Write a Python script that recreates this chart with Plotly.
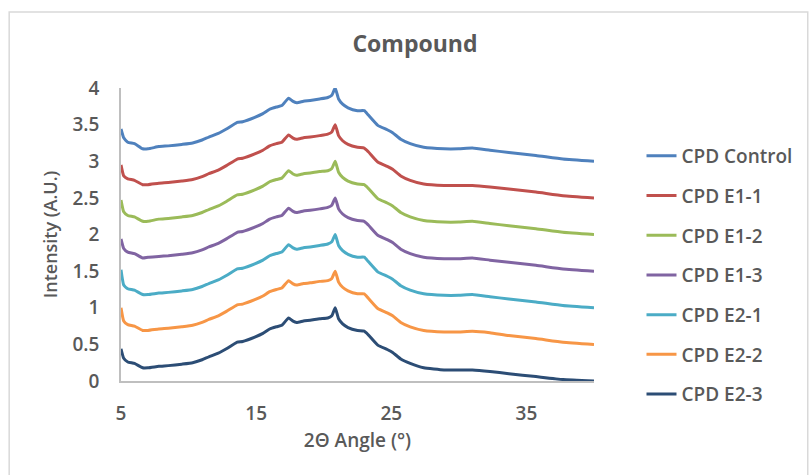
import plotly.graph_objects as go

# 2-theta angle grid (degrees)
angle = [5.0, 5.2, 5.5, 6.0, 6.6, 7.0, 7.8, 8.5, 9.5, 10.3, 11.0, 11.5, 12.2, 12.8,
         13.6, 14.0, 14.9, 15.5, 16.0, 16.5, 16.9, 17.4, 17.7, 18.0, 18.5, 19.0,
         19.7, 20.3, 20.6, 20.85, 21.1, 21.4, 21.8, 22.5, 23.0, 23.3, 24.0, 24.7,
         25.1, 25.7, 26.4, 27.4, 28.9, 30.0, 31.0, 32.3, 33.7, 35.7, 37.7, 40.0]

cpd_control = [3.44, 3.32, 3.26, 3.24, 3.17, 3.17, 3.20, 3.21, 3.23, 3.25, 3.29, 3.33, 3.38, 3.44,
               3.53, 3.54, 3.60, 3.65, 3.71, 3.74, 3.76, 3.86, 3.82, 3.80, 3.82, 3.83,
               3.85, 3.87, 3.90, 4.00, 3.85, 3.78, 3.73, 3.69, 3.69, 3.63, 3.49, 3.43,
               3.39, 3.30, 3.24, 3.19, 3.17, 3.17, 3.18, 3.15, 3.12, 3.08, 3.03, 3.00]
cpd_e1_1 = [2.95, 2.80, 2.76, 2.74, 2.68, 2.68, 2.70, 2.71, 2.73, 2.75, 2.79, 2.83, 2.88, 2.94,
            3.03, 3.04, 3.10, 3.15, 3.21, 3.24, 3.26, 3.36, 3.32, 3.30, 3.32, 3.33,
            3.35, 3.37, 3.40, 3.50, 3.35, 3.28, 3.23, 3.19, 3.18, 3.13, 2.99, 2.93,
            2.89, 2.80, 2.74, 2.69, 2.67, 2.67, 2.67, 2.65, 2.62, 2.58, 2.53, 2.50]
cpd_e1_2 = [2.47, 2.31, 2.26, 2.24, 2.18, 2.18, 2.21, 2.22, 2.24, 2.26, 2.30, 2.34, 2.39, 2.45,
            2.54, 2.55, 2.61, 2.66, 2.72, 2.75, 2.77, 2.87, 2.83, 2.81, 2.83, 2.84,
            2.86, 2.87, 2.90, 3.00, 2.85, 2.78, 2.73, 2.69, 2.68, 2.63, 2.49, 2.43,
            2.39, 2.30, 2.24, 2.19, 2.17, 2.17, 2.18, 2.15, 2.12, 2.08, 2.03, 2.00]
cpd_e1_3 = [1.94, 1.81, 1.76, 1.74, 1.68, 1.69, 1.70, 1.71, 1.73, 1.75, 1.79, 1.83, 1.88, 1.94,
            2.03, 2.04, 2.10, 2.15, 2.21, 2.24, 2.26, 2.36, 2.32, 2.30, 2.32, 2.33,
            2.35, 2.37, 2.40, 2.50, 2.35, 2.28, 2.23, 2.19, 2.18, 2.13, 1.99, 1.93,
            1.89, 1.80, 1.74, 1.69, 1.67, 1.67, 1.68, 1.65, 1.62, 1.58, 1.53, 1.50]
cpd_e2_1 = [1.52, 1.31, 1.26, 1.24, 1.18, 1.18, 1.20, 1.21, 1.23, 1.25, 1.29, 1.33, 1.38, 1.44,
            1.53, 1.54, 1.60, 1.65, 1.71, 1.74, 1.76, 1.86, 1.82, 1.80, 1.82, 1.83,
            1.85, 1.87, 1.90, 2.00, 1.85, 1.78, 1.73, 1.69, 1.69, 1.63, 1.49, 1.43,
            1.39, 1.30, 1.24, 1.19, 1.17, 1.17, 1.18, 1.15, 1.12, 1.08, 1.03, 1.00]
cpd_e2_2 = [1.00, 0.82, 0.77, 0.75, 0.69, 0.69, 0.71, 0.72, 0.74, 0.76, 0.80, 0.84, 0.89, 0.95,
            1.04, 1.05, 1.11, 1.16, 1.22, 1.25, 1.27, 1.37, 1.33, 1.31, 1.33, 1.34,
            1.36, 1.37, 1.40, 1.50, 1.35, 1.28, 1.23, 1.19, 1.19, 1.13, 0.99, 0.93,
            0.89, 0.80, 0.74, 0.69, 0.67, 0.67, 0.68, 0.66, 0.62, 0.58, 0.53, 0.50]
cpd_e2_3 = [0.44, 0.31, 0.26, 0.24, 0.18, 0.18, 0.20, 0.21, 0.23, 0.25, 0.29, 0.33, 0.38, 0.44,
            0.53, 0.54, 0.60, 0.65, 0.71, 0.74, 0.76, 0.86, 0.82, 0.80, 0.82, 0.83,
            0.85, 0.86, 0.89, 1.00, 0.85, 0.78, 0.73, 0.69, 0.68, 0.63, 0.49, 0.43,
            0.39, 0.30, 0.24, 0.18, 0.15, 0.15, 0.15, 0.13, 0.10, 0.06, 0.02, 0.00]

series_names = ["CPD Control", "CPD E1-1", "CPD E1-2", "CPD E1-3", "CPD E2-1", "CPD E2-2", "CPD E2-3"]
series_values = [cpd_control, cpd_e1_1, cpd_e1_2, cpd_e1_3, cpd_e2_1, cpd_e2_2, cpd_e2_3]
colors = ["#4F81BD", "#C0504D", "#9BBB59", "#8064A2", "#4BACC6", "#F79646", "#2C4D75"]

y_ticks = [0, 0.5, 1, 1.5, 2, 2.5, 3, 3.5, 4]
y_tick_labels = ["0", "0.5", "1", "1.5", "2", "2.5", "3", "3.5", "4"]
x_ticks = [5, 15, 25, 35]

FONT = "Open Sans"
GREY = "#595959"

fig = go.Figure()
for i, (name, vals, col) in enumerate(zip(series_names, series_values, colors)):
    fig.add_trace(go.Scatter(
        x=angle, y=vals, name=name, mode="lines",
        line=dict(color=col, width=3, shape="spline", smoothing=0.4),
        legendgroup=f"g{i}",
    ))

fig.update_layout(
    width=809, height=475,
    margin=dict(l=121, r=210, t=88, b=94),
    paper_bgcolor="white", plot_bgcolor="white",
    font=dict(family=FONT, color=GREY, size=16),
    title=dict(text="<b>Compound</b>", x=415 / 809, xanchor="center",
               y=1 - 44 / 475, yanchor="middle",
               font=dict(family=FONT, size=23, color=GREY)),
    showlegend=True,
    legend=dict(x=(647 - 121) / 478, xanchor="left", y=(381 - 137) / 293, yanchor="top",
                font=dict(family=FONT, size=19, color=GREY, weight=600),
                tracegroupgap=12, bgcolor="rgba(0,0,0,0)"),
    xaxis=dict(range=[5, 40], tickvals=x_ticks, ticktext=[str(t) for t in x_ticks],
               showgrid=False, zeroline=False, showline=True, linecolor="#BFBFBF",
               linewidth=1.5, ticks="", ticklabelstandoff=14,
               tickfont=dict(family=FONT, size=19, color=GREY, weight=600),
               title=dict(text="2Θ Angle (°)", font=dict(family=FONT, size=19, color=GREY, weight=600),
                          standoff=9)),
    yaxis=dict(range=[0, 4], tickvals=y_ticks, ticktext=y_tick_labels,
               showgrid=False, zeroline=False, showline=True, linecolor="#BFBFBF",
               linewidth=1.5, ticks="", ticklabelstandoff=16,
               tickfont=dict(family=FONT, size=19, color=GREY, weight=600),
               title=dict(text="Intensity (A.U.)", font=dict(family=FONT, size=18, color=GREY, weight=600),
                          standoff=10)),
    shapes=[dict(type="rect", xref="paper", yref="paper",
                 x0=(8 - 121) / 478, x1=(815 - 121) / 478,
                 y0=(381 - 480) / 293, y1=(381 - 12) / 293,
                 line=dict(color="#D9D9D9", width=1.5), fillcolor="rgba(0,0,0,0)", layer="below")],
)

fig.write_html("out.html")
